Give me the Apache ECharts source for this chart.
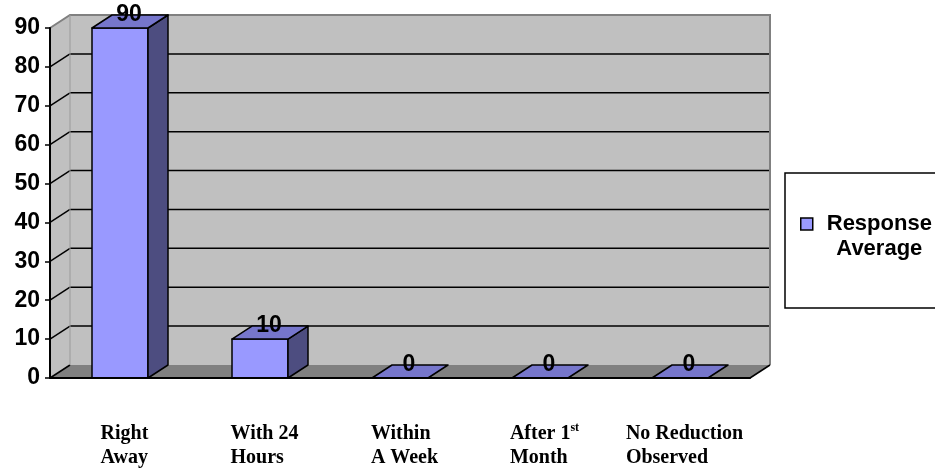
<!DOCTYPE html>
<html>
<head>
<meta charset="utf-8">
<script src="https://cdn.jsdelivr.net/npm/echarts@6/dist/echarts.min.js"></script>
<style>
  html, body { margin: 0; padding: 0; background: #fff; }
  #chart { width: 935px; height: 473px; }
</style>
</head>
<body>
<div id="chart"></div>
<script>
const categories = ['Right\nAway', 'With 24\nHours', 'Within\nA Week', 'After 1st\nMonth', 'No Reduction\nObserved'];
const responseAverage = [90, 10, 0, 0, 0];
const yTicks = [0, 10, 20, 30, 40, 50, 60, 70, 80, 90];
const seriesName = 'Response Average';

const DX = 20, DY = -13;
const FRONT = '#9999FF', TOP = '#7676CC', SIDE = '#4D4D80';
const WALL = '#C0C0C0', FLOOR = '#808080';

function renderWalls(params, api) {
  const cs = params.coordSys;
  const x0 = cs.x, x1 = cs.x + cs.width;
  const yAt = v => api.coord([0, v])[1];
  const yMin = yAt(yTicks[0]), yMax = yAt(yTicks[yTicks.length - 1]);
  const children = [];
  children.push({ type: 'rect', shape: { x: x0 + DX, y: yMax + DY, width: x1 - x0, height: yMin - yMax }, style: { fill: WALL } });
  children.push({ type: 'polygon', shape: { points: [[x0, yMin], [x0, yMax], [x0 + DX, yMax + DY], [x0 + DX, yMin + DY]] }, style: { fill: WALL } });
  children.push({ type: 'polygon', shape: { points: [[x0, yMin], [x1, yMin], [x1 + DX, yMin + DY], [x0 + DX, yMin + DY]] }, style: { fill: FLOOR } });
  yTicks.forEach(t => {
    const y = yAt(t);
    if (t !== yTicks[yTicks.length - 1]) {
      if (t !== yTicks[0]) {
        children.push({ type: 'line', shape: { x1: x0 + DX, y1: y + DY, x2: x1 + DX, y2: y + DY }, style: { stroke: '#000', lineWidth: 1.5 } });
      }
      children.push({ type: 'line', shape: { x1: x0, y1: y, x2: x0 + DX, y2: y + DY }, style: { stroke: '#000', lineWidth: 1.5 } });
    }
  });
  children.push({ type: 'polyline', shape: { points: [[x0, yMax], [x0 + DX, yMax + DY], [x1 + DX, yMax + DY], [x1 + DX, yMin + DY]] }, style: { stroke: '#808080', lineWidth: 2, fill: null } });
  children.push({ type: 'line', shape: { x1: x0 + DX, y1: yMax + DY, x2: x0 + DX, y2: yMin + DY }, style: { stroke: '#9a9a9a', lineWidth: 1 } });
  children.push({ type: 'line', shape: { x1: x1, y1: yMin, x2: x1 + DX, y2: yMin + DY }, style: { stroke: '#000', lineWidth: 1.5 } });
  return { type: 'group', children };
}

function renderBar(params, api) {
  const i = api.value(0), v = api.value(1);
  const top = api.coord([i, v]), base = api.coord([i, 0]);
  const w = api.size([1, 0])[0] * 0.4;
  const xl = top[0] - w / 2, xr = top[0] + w / 2, yt = top[1], yb = base[1];
  const st = { stroke: '#000', lineWidth: 1.5, lineJoin: 'round' };
  const children = [];
  if (yb - yt > 0.5) {
    children.push({ type: 'rect', shape: { x: xl, y: yt, width: w, height: yb - yt }, style: Object.assign({ fill: FRONT }, st) });
    children.push({ type: 'polygon', shape: { points: [[xr, yt], [xr + DX, yt + DY], [xr + DX, yb + DY], [xr, yb]] }, style: Object.assign({ fill: SIDE }, st) });
  }
  children.push({ type: 'polygon', shape: { points: [[xl, yt], [xr, yt], [xr + DX, yt + DY], [xl + DX, yt + DY]] }, style: Object.assign({ fill: TOP }, st) });
  children.push({ type: 'text', style: { text: String(v), x: top[0] + 9, y: yt + DY, align: 'center', verticalAlign: 'middle', fill: '#000', font: 'bold 23px "Liberation Sans", Arial, sans-serif' } });
  return { type: 'group', children };
}

const chart = echarts.init(document.getElementById('chart'), null, { renderer: 'canvas' });
chart.setOption({
  animation: false,
  backgroundColor: '#fff',
  grid: { left: 50, right: 185, top: 28, bottom: 95 },
  legend: {
    left: 785, top: 173,
    orient: 'vertical',
    padding: [40, 40, 48, 15],
    borderColor: '#000', borderWidth: 1.5,
    itemWidth: 12, itemHeight: 12,
    selectedMode: false,
    data: [{ name: seriesName, icon: 'rect', itemStyle: { color: FRONT, borderColor: '#000', borderWidth: 1.5 } }],
    formatter: name => name.split(' ').map(s => '{a|' + s + '}').join('\n'),
    textStyle: {
      padding: [25, 0, 0, 9],
      rich: { a: { align: 'center', fontFamily: '"Liberation Sans", Arial, sans-serif', fontWeight: 'bold', fontSize: 22, lineHeight: 25, color: '#000' } }
    }
  },
  xAxis: {
    type: 'category',
    data: categories,
    z: 5,
    axisLine: { lineStyle: { color: '#000', width: 2 } },
    axisTick: { length: 7, lineStyle: { color: '#000', width: 1.5 } },
    axisLabel: {
      interval: 0, margin: 44, align: 'center', padding: [0, 0, 0, 9],
      formatter: val => val.split('\n').map(line => '{t|' + line.replace(/(\d)(st|nd|rd|th)\b/, '$1}{s|$2}{t|') + '}').join('\n'),
      rich: {
        t: { fontFamily: '"Liberation Serif", "Times New Roman", serif', fontWeight: 'bold', fontSize: 20, lineHeight: 24, color: '#000', align: 'left' },
        s: { fontFamily: '"Liberation Serif", "Times New Roman", serif', fontWeight: 'bold', fontSize: 12, lineHeight: 12, color: '#000', align: 'left', verticalAlign: 'top' }
      }
    }
  },
  yAxis: {
    type: 'value',
    min: yTicks[0], max: yTicks[yTicks.length - 1], interval: yTicks[1] - yTicks[0],
    z: 5,
    axisLine: { show: true, lineStyle: { color: '#000', width: 2 } },
    axisTick: { show: true, length: 5, lineStyle: { color: '#000', width: 1.5 } },
    splitLine: { show: false },
    axisLabel: { margin: 10, color: '#000', fontFamily: '"Liberation Sans", Arial, sans-serif', fontWeight: 'bold', fontSize: 23 }
  },
  series: [
    { type: 'custom', name: 'walls', z: 1, silent: true, renderItem: renderWalls, data: [[0, 0]], encode: { x: 0, y: 1 } },
    { type: 'custom', name: seriesName, z: 2, itemStyle: { color: FRONT }, renderItem: renderBar,
      data: responseAverage.map((v, i) => [i, v]), encode: { x: 0, y: 1 } }
  ]
});
</script>
</body>
</html>
